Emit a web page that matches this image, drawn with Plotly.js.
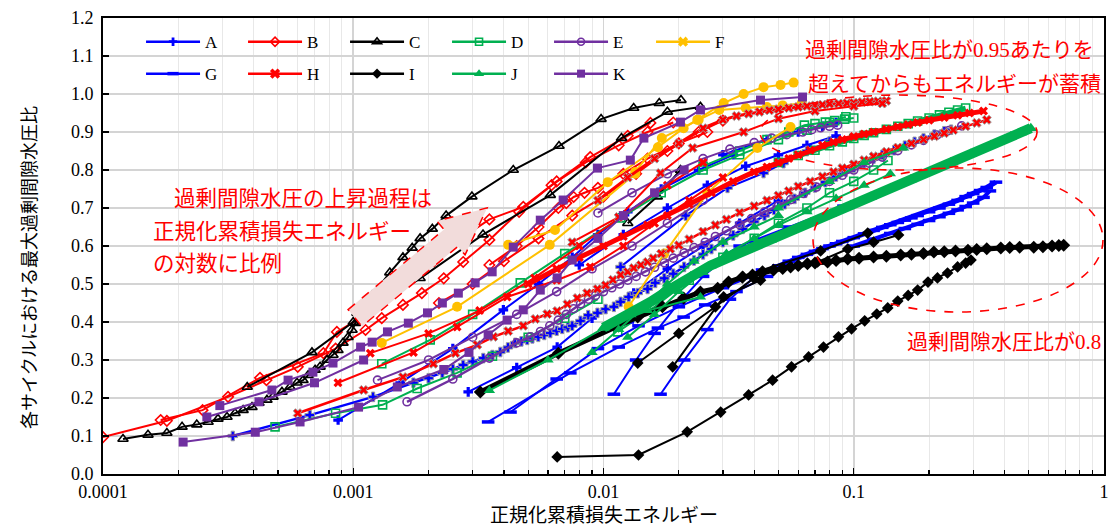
<!DOCTYPE html>
<html><head><meta charset="utf-8">
<script src="https://cdn.plot.ly/plotly-3.0.1.min.js"></script>
<style>html,body{margin:0;padding:0;background:#fff;}#chart{width:1112px;height:526px;}</style>
</head><body><div id="chart"></div>
<script>
// ================= DATA =================
const seriesNames = ['A','B','C','D','E','F','G','H','I','J','K'];
const xTickVals = [0.0001, 0.001, 0.01, 0.1, 1];
const xTickText = ['0.0001', '0.001', '0.01', '0.1', '1'];
const yTickVals = [0,0.1,0.2,0.3,0.4,0.5,0.6,0.7,0.8,0.9,1.0,1.1,1.2];
const yTickText = ['0.0','0.1','0.2','0.3','0.4','0.5','0.6','0.7','0.8','0.9','1.0','1.1','1.2'];
const xTitle = '正規化累積損失エネルギー';
const yTitle = '各サイクルにおける最大過剰間隙水圧比';

// --- A ---
const A1 = [[3.3e-4,0.1],[6.7e-4,0.155],[1.2e-3,0.203],[1.74e-3,0.24],[2.0e-3,0.252],[2.27e-3,0.266],[2.5e-3,0.276],[2.75e-3,0.287],[3.0e-3,0.296],[3.31e-3,0.305],[3.6e-3,0.313],[3.87e-3,0.321],[4.15e-3,0.333],[4.44e-3,0.345],[4.7e-3,0.349],[4.96e-3,0.353],[5.2e-3,0.357],[5.49e-3,0.361],[5.8e-3,0.366],[6.13e-3,0.371],[6.5e-3,0.377],[6.84e-3,0.382],[7.2e-3,0.386],[7.5e-3,0.39],[8.09e-3,0.403],[8.69e-3,0.418],[9.46e-3,0.424],[0.0102,0.434],[0.011,0.44],[0.0117,0.453],[0.0126,0.466],[0.0137,0.476],[0.015,0.487],[0.0161,0.503],[0.0175,0.515],[0.019,0.527],[0.021,0.545],[0.023,0.562],[0.025,0.578],[0.027,0.592],[0.03,0.61],[0.033,0.628],[0.036,0.645],[0.04,0.664],[0.044,0.68],[0.048,0.695],[0.053,0.71],[0.058,0.724],[0.064,0.74],[0.07,0.754],[0.077,0.768],[0.085,0.783],[0.093,0.796],[0.1,0.806],[0.11,0.818],[0.12,0.83],[0.13,0.84],[0.145,0.852],[0.16,0.864],[0.175,0.874],[0.19,0.883],[0.21,0.893],[0.23,0.902],[0.245,0.906]];
const A2 = [[2.88e-3,0.216],[4.5e-3,0.28],[6.53e-3,0.334],[9e-3,0.41],[0.0132,0.476],[0.018,0.54],[0.025,0.6],[0.035,0.66],[0.05,0.72]];
const A3 = [[8.7e-4,0.142],[1.54e-3,0.24],[2.5e-3,0.33],[3.98e-3,0.432],[5.5e-3,0.5],[7.5e-3,0.57],[9.5e-3,0.63],[0.0125,0.69],[0.017,0.75],[0.024,0.8],[0.033,0.84]];
const A4 = [[0.0117,0.545],[0.0213,0.68],[0.0313,0.753],[0.0436,0.792],[0.0524,0.818],[0.065,0.85],[0.08,0.875]];
const A5 = [[0.008,0.55],[0.012,0.63],[0.018,0.7],[0.026,0.76],[0.037,0.81],[0.05,0.84],[0.065,0.865],[0.085,0.89]];
const A6 = [[0.03,0.84],[0.045,0.88],[0.06,0.9],[0.075,0.915],[0.085,0.925]];
// --- B ---
const B1 = [[1.0e-4,0.097],[1.8e-4,0.14],[3.16e-4,0.203],[4.5e-4,0.247],[6.0e-4,0.282],[8.5e-4,0.33],[1.12e-3,0.379],[1.3e-3,0.41],[1.58e-3,0.445],[1.88e-3,0.476],[2.3e-3,0.515],[2.75e-3,0.558],[3.5e-3,0.616],[4.6e-3,0.69],[6.2e-3,0.76],[8.5e-3,0.82],[0.0115,0.865],[0.015,0.9],[0.019,0.925]];
const B2 = [[1.7e-4,0.142],[2.5e-4,0.168],[4.24e-4,0.253],[7.6e-4,0.318],[8.6e-4,0.374],[1.2e-3,0.43],[1.6e-3,0.5],[2.1e-3,0.56],[2.7e-3,0.62],[3.5e-3,0.67],[4.78e-3,0.703],[6.5e-3,0.77],[8.85e-3,0.834],[0.0125,0.89],[0.0154,0.924]];
const B3 = [[3.5e-3,0.55],[4.5e-3,0.6],[5.5e-3,0.65],[6.6e-3,0.7],[7.1e-3,0.713],[7.6e-3,0.729],[8.4e-3,0.74],[9.5e-3,0.753],[0.012,0.79],[0.015,0.83],[0.02,0.87],[0.026,0.9]];
const B4 = [[2.2e-3,0.45],[3e-3,0.5],[4e-3,0.56],[5.5e-3,0.62],[7.5e-3,0.68],[0.01,0.73],[0.0135,0.79],[0.018,0.85],[0.024,0.9],[0.03,0.93]];
// --- C ---
const C1 = [[1.202e-4,0.092],[1.513e-4,0.103],[1.80e-4,0.108],[2.07e-4,0.124],[2.37e-4,0.130],[2.63e-4,0.137],[2.88e-4,0.145],[3.13e-4,0.150],[3.37e-4,0.160],[3.63e-4,0.168],[3.94e-4,0.176],[4.20e-4,0.187],[4.52e-4,0.195],[4.78e-4,0.203],[5.19e-4,0.216],[5.59e-4,0.229],[5.96e-4,0.240],[6.30e-4,0.247],[6.60e-4,0.260],[7.04e-4,0.274],[7.37e-4,0.282],[7.86e-4,0.300],[8.30e-4,0.313],[8.69e-4,0.326],[9.10e-4,0.345],[9.53e-4,0.360],[9.89e-4,0.379],[1.019e-3,0.397],[1.035e-3,0.424],[1.19e-3,0.47],[1.40e-3,0.53],[1.58e-3,0.57],[1.72e-3,0.595],[1.85e-3,0.62],[2.07e-3,0.645],[2.35e-3,0.68],[2.98e-3,0.73],[4.36e-3,0.80],[6.64e-3,0.863],[9.78e-3,0.934],[0.0132,0.963],[0.0167,0.976],[0.0204,0.984]];
const C2 = [[3.77e-4,0.229],[6.84e-4,0.32],[1.0e-3,0.40],[1.85e-3,0.515],[3.3e-3,0.63],[6.13e-3,0.734],[0.0118,0.884],[0.018,0.953],[0.0244,0.966]];
const C3 = [[0.0125,0.66],[0.0164,0.73],[0.0203,0.80]];
// --- D ---
const D1 = [[4.87e-4,0.124],[8.5e-4,0.16],[1.31e-3,0.182],[1.8e-3,0.225],[2.6e-3,0.266],[3.6e-3,0.31],[5e-3,0.36],[7e-3,0.41],[9.5e-3,0.46]];
const D2 = [[1.3e-3,0.29],[2.03e-3,0.353],[3e-3,0.42],[4.65e-3,0.503],[7e-3,0.58],[0.0117,0.674],[0.017,0.74],[0.025,0.8],[0.035,0.84],[0.05,0.88],[0.065,0.905],[0.08,0.925],[0.093,0.94]];
const D3 = [[0.025,0.81],[0.035,0.85],[0.045,0.88],[0.055,0.9],[0.0635,0.918],[0.07,0.922],[0.077,0.926],[0.084,0.93],[0.092,0.934],[0.1,0.937]];
const D4 = [[0.0114,0.374],[0.016,0.44],[0.022,0.51],[0.03,0.57],[0.04,0.62],[0.05,0.66],[0.065,0.7],[0.08,0.74],[0.1,0.77],[0.12,0.8],[0.137,0.825]];
const D5 = [[0.05,0.82],[0.06,0.838],[0.07,0.852],[0.08,0.864],[0.09,0.874],[0.1,0.883],[0.11,0.891],[0.12,0.898],[0.135,0.907],[0.15,0.915],[0.165,0.922],[0.18,0.929],[0.2,0.937],[0.22,0.945],[0.24,0.952],[0.26,0.958],[0.28,0.963]];
// --- E ---
const E1 = [[1.64e-3,0.19],[2.5e-3,0.25],[3.5e-3,0.305],[4.5e-3,0.345],[5.1e-3,0.361],[5.6e-3,0.375],[6.1e-3,0.39],[6.6e-3,0.405],[7.1e-3,0.42],[7.6e-3,0.435],[8.1e-3,0.448],[8.7e-3,0.46],[9.3e-3,0.47],[0.01,0.48],[0.0108,0.49],[0.0116,0.5],[0.0125,0.51],[0.0135,0.52],[0.0147,0.532],[0.016,0.544],[0.0175,0.556],[0.019,0.568],[0.021,0.582],[0.023,0.596],[0.0255,0.61],[0.028,0.625],[0.031,0.64],[0.035,0.656],[0.039,0.672],[0.044,0.69],[0.05,0.706],[0.056,0.722],[0.063,0.738],[0.071,0.755],[0.08,0.77],[0.09,0.786],[0.1,0.8],[0.115,0.818],[0.13,0.834],[0.15,0.851],[0.17,0.866],[0.19,0.878],[0.215,0.892],[0.24,0.904],[0.27,0.916]];
const E2 = [[1.25e-3,0.247],[2e-3,0.3],[3e-3,0.36],[4.5e-3,0.42],[6.5e-3,0.48],[9e-3,0.54],[0.013,0.6],[0.018,0.66],[0.025,0.72]];
const E3 = [[0.0095,0.687],[0.013,0.74],[0.018,0.79],[0.025,0.83],[0.032,0.855],[0.04,0.872],[0.047,0.884],[0.054,0.893],[0.0624,0.9],[0.068,0.906],[0.0737,0.911],[0.08,0.915],[0.0862,0.918]];
// --- F ---
const F1 = [[1.3e-3,0.345],[2.6e-3,0.44],[6.1e-3,0.603],[0.0134,0.79]];
const F2 = [[4.16e-3,0.603],[6.4e-3,0.642],[0.0104,0.768],[0.0165,0.86],[0.0209,0.91],[0.0237,0.932],[0.0302,0.976],[0.0363,1.0],[0.0436,1.018],[0.051,1.024],[0.0575,1.03]];
const F3 = [[0.0126,0.44],[0.0175,0.58],[0.026,0.74],[0.0412,0.858],[0.0559,0.913]];
const F4 = [[0.0134,0.795],[0.0171,0.884],[0.024,0.932],[0.029,0.958],[0.037,0.963],[0.045,0.966],[0.052,0.97],[0.062,0.976]];
// --- G ---
const G1 = [[3.46e-3,0.137],[7.37e-3,0.266],[0.0115,0.334],[0.0165,0.384],[0.0209,0.413],[0.0255,0.445],[0.034,0.48],[0.045,0.52]];
const G2 = [[4.25e-3,0.163],[6.5e-3,0.25],[9.5e-3,0.33],[0.0138,0.39],[0.02,0.44],[0.03,0.49],[0.045,0.535]];
const G3 = [[0.045,0.535],[0.05,0.548],[0.055,0.56],[0.06,0.57],[0.065,0.578],[0.07,0.586],[0.075,0.593],[0.08,0.6],[0.085,0.606],[0.09,0.612],[0.1,0.622],[0.11,0.632],[0.12,0.641],[0.13,0.649],[0.14,0.656],[0.15,0.662],[0.16,0.668],[0.17,0.674],[0.18,0.68],[0.2,0.69],[0.22,0.7],[0.24,0.71],[0.26,0.72],[0.28,0.73],[0.3,0.738],[0.32,0.746],[0.34,0.754],[0.37,0.768]];
const G4 = [[0.1,0.6],[0.12,0.618],[0.14,0.633],[0.16,0.646],[0.18,0.657],[0.2,0.667],[0.22,0.677],[0.24,0.686],[0.26,0.695],[0.28,0.704],[0.3,0.713],[0.33,0.728],[0.35,0.745]];
const G5 = [[0.011,0.21],[0.0135,0.3],[0.016,0.37],[0.02,0.45],[0.025,0.52],[0.032,0.58]];
const G6 = [[0.0169,0.21],[0.021,0.3],[0.026,0.38],[0.032,0.46],[0.043,0.537]];
const G7 = [[0.0125,0.4],[0.02,0.5],[0.035,0.6],[0.055,0.65],[0.091,0.705]];
// --- H ---
const H1 = [[6.0e-4,0.16],[1.1e-3,0.221],[1.58e-3,0.255],[2.09e-3,0.29],[2.56e-3,0.318],[3.13e-3,0.34],[3.63e-3,0.361],[4.16e-3,0.376],[4.78e-3,0.39],[5.34e-3,0.408],[5.96e-3,0.421],[6.53e-3,0.429],[7.17e-3,0.447],[7.86e-3,0.463],[8.6e-3,0.476],[9.46e-3,0.487],[0.0102,0.497],[0.0109,0.511],[0.0117,0.524],[0.0125,0.532],[0.0132,0.542],[0.0141,0.55],[0.015,0.558],[0.0158,0.568],[0.017,0.58],[0.0185,0.592],[0.02,0.602],[0.022,0.618],[0.025,0.638],[0.028,0.655],[0.031,0.67],[0.035,0.688],[0.04,0.705],[0.045,0.72],[0.05,0.733],[0.055,0.745],[0.06,0.757],[0.067,0.77],[0.075,0.783],[0.083,0.795],[0.09,0.805],[0.1,0.815],[0.11,0.826],[0.12,0.836],[0.135,0.848],[0.15,0.859],[0.17,0.87],[0.19,0.88],[0.21,0.889],[0.23,0.897],[0.25,0.905],[0.28,0.915],[0.31,0.924],[0.34,0.932]];
const H2 = [[5e-3,0.5],[6.5e-3,0.54],[8e-3,0.57],[0.01,0.6],[0.012,0.625],[0.015,0.655],[0.018,0.68],[0.022,0.71],[0.027,0.74],[0.033,0.77],[0.04,0.795],[0.045,0.808],[0.05,0.82],[0.055,0.83],[0.06,0.84],[0.067,0.852],[0.075,0.865],[0.083,0.873],[0.09,0.88],[0.1,0.888],[0.11,0.895],[0.12,0.9],[0.135,0.907],[0.15,0.914],[0.165,0.92],[0.18,0.925],[0.2,0.931],[0.23,0.938],[0.26,0.944],[0.29,0.95],[0.33,0.955]];
const H3 = [[0.0095,0.72],[0.0125,0.78],[0.016,0.83],[0.02,0.87],[0.025,0.91],[0.03,0.932],[0.034,0.942],[0.038,0.948],[0.042,0.953],[0.046,0.957],[0.05,0.96],[0.055,0.963],[0.06,0.966],[0.065,0.968],[0.07,0.97],[0.075,0.972],[0.08,0.974],[0.087,0.975],[0.094,0.976],[0.1,0.977],[0.108,0.979],[0.116,0.98],[0.125,0.981],[0.135,0.982]];
const H4 = [[8.69e-4,0.24],[1.74e-3,0.32],[2.6e-3,0.387],[4.12e-3,0.466],[6.5e-3,0.51],[8.85e-3,0.545],[0.012,0.6],[0.016,0.66],[0.022,0.72],[0.03,0.78]];
const H5 = [[1.17e-3,0.318],[2e-3,0.37],[3.2e-3,0.43],[5.3e-3,0.516],[8e-3,0.6],[0.012,0.68],[0.018,0.76],[0.025,0.82]];
const H6 = [[7.5e-3,0.61],[0.0115,0.676],[0.0169,0.792],[0.0227,0.858],[0.0363,0.9],[0.05,0.935],[0.07,0.955],[0.1,0.968],[0.13,0.975]];
// --- I ---
const I1 = [[6.53e-3,0.045],[0.0138,0.05],[0.0216,0.111],[0.0294,0.163],[0.038,0.208],[0.0474,0.247],[0.0564,0.282],[0.066,0.308],[0.0757,0.334],[0.0869,0.361],[0.098,0.382],[0.1106,0.403],[0.1236,0.421],[0.1367,0.437],[0.1499,0.455],[0.165,0.47],[0.18,0.484],[0.198,0.505],[0.216,0.516],[0.237,0.529],[0.26,0.545],[0.28,0.555],[0.294,0.563]];
const I2 = [[3.22e-3,0.216],[6.6e-3,0.318],[0.0137,0.413],[0.0172,0.44],[0.0209,0.463],[0.0244,0.479],[0.0286,0.489],[0.0316,0.505],[0.0359,0.518],[0.0394,0.524],[0.0432,0.532],[0.0478,0.537],[0.052,0.541],[0.0559,0.545],[0.06,0.549],[0.0653,0.553],[0.07,0.555],[0.0786,0.558],[0.085,0.562],[0.0946,0.566],[0.105,0.568],[0.12,0.571],[0.135,0.573],[0.154,0.576],[0.17,0.578],[0.19,0.58],[0.209,0.584],[0.23,0.585],[0.255,0.587],[0.286,0.589],[0.31,0.591],[0.34,0.593],[0.387,0.595],[0.42,0.596],[0.46,0.597],[0.524,0.597],[0.57,0.598],[0.62,0.6],[0.66,0.601],[0.69,0.602]];
const I3 = [[0.0137,0.292],[0.02,0.37],[0.028,0.44],[0.0399,0.515]];
const I4 = [[0.0189,0.282],[0.0302,0.466],[0.0424,0.51]];
const I5 = [[0.036,0.52],[0.0737,0.587],[0.1137,0.634]];
const I6 = [[0.0717,0.558],[0.0946,0.592],[0.12,0.61],[0.151,0.629]];
// --- J ---
const J1 = [[0.01,0.385],[0.0128,0.42],[0.0154,0.453],[0.0185,0.487],[0.0223,0.52],[0.0267,0.548],[0.0321,0.571],[0.0386,0.594],[0.0465,0.616],[0.0559,0.639],[0.0672,0.662],[0.0808,0.684],[0.0972,0.707],[0.117,0.729],[0.1405,0.752],[0.169,0.775],[0.203,0.797],[0.244,0.82],[0.293,0.842],[0.353,0.865],[0.424,0.888],[0.465,0.899],[0.51,0.91]];
const J2 = [[3.5e-3,0.22],[6e-3,0.3],[0.01,0.384],[0.015,0.43],[0.0244,0.466]];
const J3 = [[0.05,0.7],[0.08,0.77],[0.11,0.82],[0.158,0.858]];
const J4 = [[0.009,0.32],[0.0115,0.38],[0.0145,0.44],[0.018,0.5],[0.023,0.56],[0.03,0.61],[0.04,0.65],[0.05,0.68]];
const J5 = [[0.0125,0.36],[0.016,0.42],[0.02,0.48],[0.025,0.53],[0.031,0.58],[0.04,0.62],[0.05,0.655],[0.065,0.69],[0.085,0.725],[0.11,0.76],[0.14,0.79]];
// --- K ---
const K1 = [[2.09e-4,0.084],[4.06e-4,0.11],[6.13e-4,0.137],[1.05e-3,0.176],[1.5e-3,0.229],[2.3e-3,0.275],[2.9e-3,0.32],[3.46e-3,0.366],[4.12e-3,0.405],[4.78e-3,0.432],[5.59e-3,0.484],[6.53e-3,0.516],[7.5e-3,0.563],[9.5e-3,0.62],[0.012,0.68],[0.016,0.74],[0.021,0.8]];
const K2 = [[2.93e-4,0.18],[4.73e-4,0.221],[5.49e-4,0.247],[6.9e-4,0.268],[8.3e-4,0.292],[1.07e-3,0.334],[1.19e-3,0.347],[1.37e-3,0.374],[1.66e-3,0.397],[1.98e-3,0.424],[2.27e-3,0.45],[2.63e-3,0.476],[3.07e-3,0.503],[3.59e-3,0.532],[4.36e-3,0.597],[5.59e-3,0.668],[6.9e-3,0.721],[9.46e-3,0.805],[0.0128,0.826],[0.0145,0.884],[0.0203,0.926],[0.0244,0.958],[0.0424,0.984],[0.0624,0.992]];
const K3 = [[2.6e-4,0.15],[4.2e-4,0.19],[7e-4,0.24],[1.1e-3,0.3]];

// ================= STYLE =================
const STYLE = {
  A:{color:'#0000FF', symbol:'cross', size:8, mlw:0},
  B:{color:'#FF0000', symbol:'diamond-open', size:8, mlw:1.6},
  C:{color:'#000000', symbol:'triangle-up-open', size:9, mlw:1.6},
  D:{color:'#00B050', symbol:'square-open', size:8, mlw:1.6},
  E:{color:'#7030A0', symbol:'circle-open', size:8, mlw:1.6},
  F:{color:'#FFC000', symbol:'circle', size:10, mlw:0, legendSymbol:'x'},
  G:{color:'#0000FF', symbol:'line-ew', size:9, mlw:3.5},
  H:{color:'#FF0000', symbol:'x', size:8, mlw:0},
  I:{color:'#000000', symbol:'diamond', size:9, mlw:0},
  J:{color:'#00B050', symbol:'triangle-up', size:10, mlw:0},
  K:{color:'#7030A0', symbol:'square', size:9, mlw:0}
};

function curve(series, pts, o) {
  o = o || {};
  const s = STYLE[series];
  return {
    type:'scatter', mode:'lines+markers',
    x: pts.map(p => p[0]), y: pts.map(p => p[1]),
    legendgroup: series, showlegend:false, hoverinfo:'skip', cliponaxis:true,
    line:{color:s.color, width:o.lw || 2},
    marker:{symbol:s.symbol, size:o.ms || s.size, color:s.color,
      line:{color:o.gray ? '#9c9c9c' : s.color, width:o.gray ? 1 : s.mlw}}
  };
}
function legendEntry(series, legendId) {
  const s = STYLE[series];
  const sym = s.legendSymbol || s.symbol;
  return {
    type:'scatter', mode:'lines+markers', x:[null], y:[null], name:series,
    legendgroup:series, legend:legendId, showlegend:true, hoverinfo:'skip',
    line:{color:s.color, width:2.5},
    marker:{symbol:sym, size:(sym==='x'?9:s.size-1), color:s.color,
      line:{color:s.color, width:(sym==='x'?0:s.mlw)}}
  };
}

const traces = [
  curve('A', A3), curve('A', A2), curve('A', A5), curve('A', A6),
  curve('A', A1, {gray:true, lw:2.5}), curve('A', A4, {gray:true}),
  curve('B', B1), curve('B', B2), curve('B', B3), curve('B', B4),
  curve('C', C1), curve('C', C2), curve('C', C3),
  curve('D', D1), curve('D', D2), curve('D', D3), curve('D', D4), curve('D', D5, {lw:5}),
  curve('E', E2), curve('E', E3), curve('E', E1, {lw:2.5}),
  curve('F', F1), curve('F', F2), curve('F', F3), curve('F', F4),
  curve('G', G1), curve('G', G2), curve('G', G5), curve('G', G6), curve('G', G7),
  curve('G', G3, {lw:5}), curve('G', G4, {lw:4}),
  curve('H', H4), curve('H', H5), curve('H', H1, {gray:true, lw:2.5}),
  curve('H', H2, {lw:5}), curve('H', H3, {gray:true, lw:3}), curve('H', H6, {gray:true}),
  curve('I', I1), curve('I', I3), curve('I', I4), curve('I', I5), curve('I', I6),
  curve('I', I2, {lw:5, ms:10}),
  curve('J', J2), curve('J', J3), curve('J', J4), curve('J', J5),
  curve('J', J1, {lw:10, ms:11}),
  curve('K', K3), curve('K', K1), curve('K', K2)
];
seriesNames.forEach((n, i) => traces.push(legendEntry(n, i < 6 ? 'legend' : 'legend2')));

// minor x grid positions (2..9 in each decade)
const xMinor = [];
[1e-4, 1e-3, 1e-2, 1e-1].forEach(d => { for (let k = 2; k <= 9; k++) xMinor.push(d * k); });

const red = '#FF0000';
const cjk = 'Noto Sans CJK JP, Noto Sans, sans-serif';
const serifSpan = t => '<span style="font-family:Liberation Serif">' + t + '</span>';

const legendCommon = {
  orientation:'h', xanchor:'left', yanchor:'middle', x:0.038,
  bgcolor:'rgba(0,0,0,0)', borderwidth:0,
  font:{family:'Liberation Serif, serif', size:17, color:'#000'},
  entrywidth:33, entrywidthmode:'pixels', itemwidth:54, tracegroupgap:0, traceorder:'normal'
};

const layout = {
  width:1112, height:526,
  margin:{l:103, r:8, t:18, b:52, autoexpand:false},
  paper_bgcolor:'#ffffff', plot_bgcolor:'#ffffff',
  font:{family:'Liberation Serif, serif', size:17, color:'#000'},
  showlegend:true,
  legend:Object.assign({}, legendCommon, {y:0.947}),
  legend2:Object.assign({}, legendCommon, {y:0.877}),
  xaxis:{
    type:'log', range:[-4, 0], tickmode:'array', tickvals:xTickVals, ticktext:xTickText,
    ticks:'inside', ticklen:6, tickwidth:1.2, tickcolor:'#000',
    showline:true, linecolor:'#000', linewidth:2, mirror:true,
    showgrid:true, gridcolor:'#d4d4d4', gridwidth:1.6, zeroline:false,
    minor:{tickmode:'array', tickvals:xMinor, ticks:'inside', ticklen:4, tickcolor:'#000',
           showgrid:true, gridcolor:'#e8e8e8', gridwidth:1},
    tickfont:{family:'Liberation Serif, serif', size:18, color:'#000'},
    automargin:false
  },
  yaxis:{
    range:[0, 1.2], tickmode:'array', tickvals:yTickVals, ticktext:yTickText,
    ticks:'inside', ticklen:6, tickwidth:1.2, tickcolor:'#000',
    showline:true, linecolor:'#000', linewidth:2, mirror:true,
    showgrid:true, gridcolor:'#d4d4d4', gridwidth:1.6, zeroline:false,
    tickfont:{family:'Liberation Serif, serif', size:18, color:'#000'},
    ticklabelstandoff:4,
    automargin:false
  },
  shapes:[
    {type:'path', xref:'paper', yref:'paper', layer:'above',
     path:'M0.2448,0.3605 L0.3407,0.5360 L0.3336,0.5546 L0.3837,0.5836 L0.3617,0.4805 L0.3546,0.4991 L0.2587,0.3237 Z',
     fillcolor:'#F2DCDB', opacity:1, line:{color:red, width:1.5, dash:'dash'}},
    {type:'circle', xref:'paper', yref:'paper', layer:'above',
     x0:0.6563, x1:0.9331, y0:0.6667, y1:0.8311, line:{color:red, width:1.6, dash:'dash'}},
    {type:'circle', xref:'paper', yref:'paper', layer:'above',
     x0:0.7093, x1:0.999, y0:0.3553, y1:0.6711, line:{color:red, width:1.6, dash:'dash'}}
  ],
  annotations:[
    {xref:'paper', yref:'paper', x:0.5, y:-0.087, showarrow:false,
     xanchor:'center', yanchor:'middle', text:xTitle,
     font:{family:cjk, size:19, color:'#000'}},
    {xref:'paper', yref:'paper', x:-0.0749, y:0.4518, textangle:-90, showarrow:false,
     xanchor:'center', yanchor:'middle', text:yTitle,
     font:{family:cjk, size:18, color:'#000'}},
    {xref:'paper', yref:'paper', x:0.699, y:0.934, xanchor:'left', yanchor:'middle', showarrow:false,
     text:'過剰間隙水圧比が' + serifSpan('0.95') + 'あたりを', font:{family:cjk, size:21, color:red}},
    {xref:'paper', yref:'paper', x:0.702, y:0.860, xanchor:'left', yanchor:'middle', showarrow:false,
     text:'超えてからもエネルギーが蓄積', font:{family:cjk, size:21, color:red}},
    {xref:'paper', yref:'paper', x:0.069, y:0.6096, xanchor:'left', yanchor:'middle', showarrow:false,
     text:'過剰間隙水圧の上昇過程は', font:{family:cjk, size:21.5, color:red}},
    {xref:'paper', yref:'paper', x:0.048, y:0.537, xanchor:'left', yanchor:'middle', showarrow:false,
     text:'正規化累積損失エネルギー', font:{family:cjk, size:21.5, color:red}},
    {xref:'paper', yref:'paper', x:0.048, y:0.465, xanchor:'left', yanchor:'middle', showarrow:false,
     text:'の対数に比例', font:{family:cjk, size:21.5, color:red}},
    {xref:'paper', yref:'paper', x:0.999, y:0.294, xanchor:'right', yanchor:'middle', showarrow:false,
     text:'過剰間隙水圧比が' + serifSpan('0.8'), font:{family:cjk, size:21, color:red}}
  ]
};

Plotly.newPlot('chart', traces, layout, {displayModeBar:false, staticPlot:true});
</script>
</body></html>
